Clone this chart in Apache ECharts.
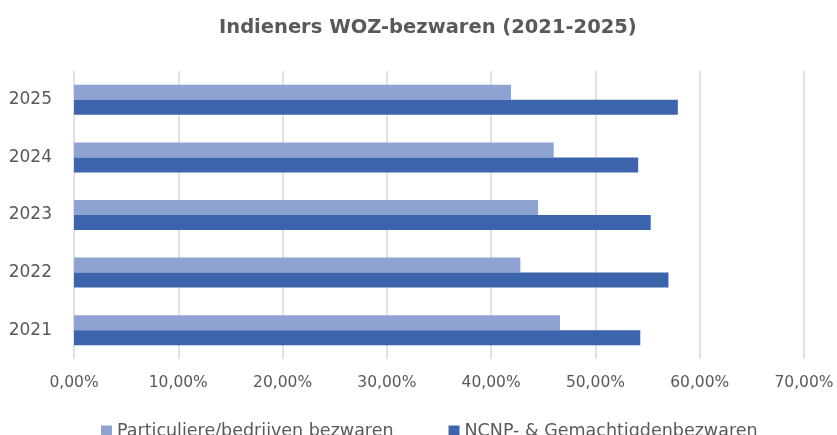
<!DOCTYPE html>
<html>
<head>
<meta charset="utf-8">
<script src="https://cdn.jsdelivr.net/npm/echarts@6/dist/echarts.min.js"></script>
<style>
html,body{margin:0;padding:0;background:#fff;}
#chart{width:837px;height:435px;}
</style>
</head>
<body>
<div id="chart"></div>
<script>
const categories = ['2021', '2022', '2023', '2024', '2025'];
const particuliere = [46.6, 42.8, 44.5, 46.0, 41.9];
const ncnp = [54.3, 57.0, 55.3, 54.1, 57.9];
const seriesNames = ['Particuliere/bedrijven bezwaren', 'NCNP- & Gemachtigdenbezwaren'];
const xTicks = [0, 10, 20, 30, 40, 50, 60, 70];

const FONT = '"DejaVu Sans", sans-serif';
const chart = echarts.init(document.getElementById('chart'), null, {renderer: 'canvas'});
chart.setOption({
  animation: false,
  backgroundColor: '#ffffff',
  title: {
    text: 'Indieners WOZ-bezwaren (2021-2025)',
    left: 219,
    top: 18,
    padding: 0,
    textStyle: {fontFamily: FONT, fontSize: 19.5, fontWeight: 'bold', color: '#595959'}
  },
  legend: {
    data: seriesNames,
    top: 417,
    left: 96,
    icon: 'rect',
    itemWidth: 11,
    itemHeight: 11,
    itemGap: 55,
    textStyle: {fontFamily: FONT, fontSize: 17.5, color: '#595959'}
  },
  grid: {left: 74, right: 33, top: 71, bottom: 76, containLabel: false},
  xAxis: {
    type: 'value',
    min: xTicks[0],
    max: xTicks[xTicks.length - 1],
    interval: 10,
    axisLine: {show: false},
    axisTick: {show: false},
    splitLine: {show: true, lineStyle: {color: '#D9D9D9', width: 1.5}},
    axisLabel: {
      margin: 16,
      fontFamily: FONT, fontSize: 15.5, color: '#595959',
      formatter: v => v.toFixed(2).replace('.', ',') + '%'
    }
  },
  yAxis: {
    type: 'category',
    data: categories,
    axisLine: {show: false},
    axisTick: {show: false},
    axisLabel: {margin: 22, fontFamily: FONT, fontSize: 17, color: '#595959'}
  },
  series: [
    {
      name: seriesNames[0], type: 'bar', data: particuliere,
      barWidth: 15, barGap: '0%',
      itemStyle: {color: '#8FA3D3'}
    },
    {
      name: seriesNames[1], type: 'bar', data: ncnp,
      barWidth: 15, barGap: '0%',
      itemStyle: {color: '#3B64AD'}
    }
  ]
});
</script>
</body>
</html>
